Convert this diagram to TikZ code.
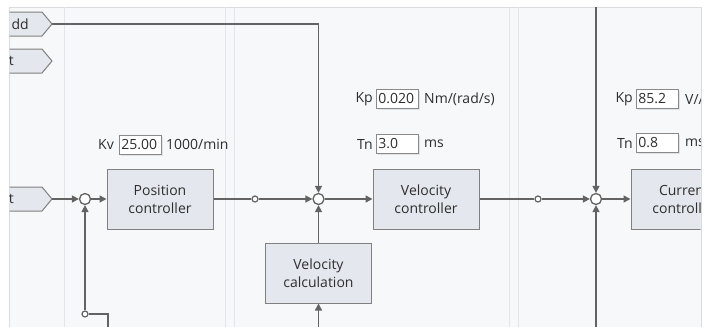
\documentclass[tikz,border=0pt]{standalone}
\usepackage{fontspec}
\setmainfont{Open Sans}
\usetikzlibrary{arrows.meta,shadows}
\definecolor{linegray}{HTML}{636363}
\definecolor{boxfill}{HTML}{E4E7ED}
\definecolor{boxborder}{HTML}{808080}
\definecolor{txt}{HTML}{2E2E2E}
\definecolor{bg}{HTML}{F7F8F9}
\definecolor{frame}{HTML}{D9DBDE}
\definecolor{panel}{HTML}{E2E6EC}
\definecolor{fieldborder}{HTML}{8A8A8A}
\begin{document}
\begin{tikzpicture}[x=1pt,y=-1pt,
  font=\fontsize{14}{18}\selectfont,
  line/.style={draw=linegray, line width=1.5pt},
  arr/.style={line, -{Triangle[length=7pt,width=7pt]}},
  block/.style={draw=boxborder, fill=boxfill, line width=1pt, minimum width=106pt,
    minimum height=60pt, align=center, text=txt, inner sep=0pt},
  sumj/.style={circle, draw=linegray, fill=white, line width=1.3pt, minimum size=11pt, inner sep=0pt},
  tapc/.style={circle, draw=linegray, fill=white, line width=1.2pt, minimum size=6pt, inner sep=0pt},
  field/.style={draw=fieldborder, fill=white, line width=0.8pt, text width=38pt,
    inner xsep=2pt, minimum height=19pt, inner ysep=0pt, anchor=west, text=txt, align=left,
    drop shadow={shadow xshift=1.5pt, shadow yshift=-1.5pt, opacity=0.18}},
  lbl/.style={text=txt, inner sep=0pt},
  tagshape/.style={draw=boxborder, fill=boxfill, line width=1pt}
]
\useasboundingbox (0,0) rectangle (707,327);
\fill[white] (0,0) rectangle (707,327);
\fill[bg] (9,7) rectangle (701,327);
\draw[frame, line width=1pt] (9,327) -- (9,7) -- (701,7) -- (701,327);
\foreach \px in {64,225,234,509,518}
  \draw[panel, line width=1pt] (\px,7) -- (\px,327);

\begin{scope}
\clip (9.5,7.5) rectangle (700.5,327);

% tags
\draw[tagshape] (-10,12) -- (42,12) -- (52,24) -- (42,36) -- (-10,36) -- cycle;
\node[lbl, anchor=east] (tagA) at (29,24) {dd};
\coordinate (tipA) at (52,24);
\draw[tagshape] (-10,49) -- (42,49) -- (52,61) -- (42,73) -- (-10,73) -- cycle;
\node[lbl, anchor=east] (tagB) at (14,61) {t};
\draw[tagshape] (-10,187) -- (42,187) -- (52,199) -- (42,211) -- (-10,211) -- cycle;
\node[lbl, anchor=east] (tagC) at (14,199) {t};
\coordinate (tipC) at (52,199);

% blocks
\node[block] (pos) at (160,199) {Position\\controller};
\node[block] (velc) at (426,199) {Velocity\\controller};
\node[block] (vcalc) at (318.5,273) {Velocity\\calculation};
\node[block] (cur) at (684,199) {Current\\controller};

% junctions
\node[sumj] (s1) at (85,199) {};
\node[sumj] (s2) at (318.5,199) {};
\node[sumj] (s3) at (596,199) {};
\node[tapc] (t1) at (255,199) {};
\node[tapc] (t2) at (538,199) {};
\node[tapc] (t3) at (85,314) {};
\coordinate (topturn) at (318.5,24);
\coordinate (s3top) at (596,7);
\coordinate (s3bot) at (596,327);
\coordinate (fbturn) at (108,314);
\coordinate (fbbot) at (108,327);
\coordinate (vcbot) at (318.5,327);

% connectors
\draw[arr] (tipC) -- (s1.west);
\draw[arr] (s1.east) -- (pos.west);
\draw[arr] (t3.north) -- (s1.south);
\draw[line] (t3.east) -- (fbturn) -- (fbbot);
\draw[line] (pos.east) -- (t1.west);
\draw[arr] (t1.east) -- (s2.west);
\draw[arr] (tipA) -- (topturn) -- (s2.north);
\draw[arr] (vcalc.north) -- (s2.south);
\draw[arr] (vcbot) -- (vcalc.south);
\draw[arr] (s2.east) -- (velc.west);
\draw[line] (velc.east) -- (t2.west);
\draw[arr] (t2.east) -- (s3.west);
\draw[arr] (s3top) -- (s3.north);
\draw[arr] (s3bot) -- (s3.south);
\draw[arr] (s3.east) -- (cur.west);

% parameters
\node[lbl, anchor=east] (kvl) at (114,144.5) {Kv};
\node[field] (kvf) at (119,144.5) {25.00};
\node[lbl, anchor=west] (kvu) at (166,144.5) {1000/min};

\node[lbl, anchor=east] (kp2l) at (373,99) {Kp};
\node[field] (kp2f) at (376,99) {0.020};
\node[lbl, anchor=west] (kp2u) at (424,99) {Nm/(rad/s)};
\node[lbl, anchor=east] (tn2l) at (373,144) {Tn};
\node[field] (tn2f) at (376,144) {3.0};
\node[lbl, anchor=west] (tn2u) at (424,144) {ms};

\node[lbl, anchor=east] (kp3l) at (633,99) {Kp};
\node[field] (kp3f) at (636,99) {85.2};
\node[lbl, anchor=west] (kp3u) at (685,99) {V/A};
\node[lbl, anchor=east] (tn3l) at (633,143) {Tn};
\node[field] (tn3f) at (636,143) {0.8};
\node[lbl, anchor=west] (tn3u) at (685,143) {ms};
\end{scope}
\end{tikzpicture}
\end{document}
